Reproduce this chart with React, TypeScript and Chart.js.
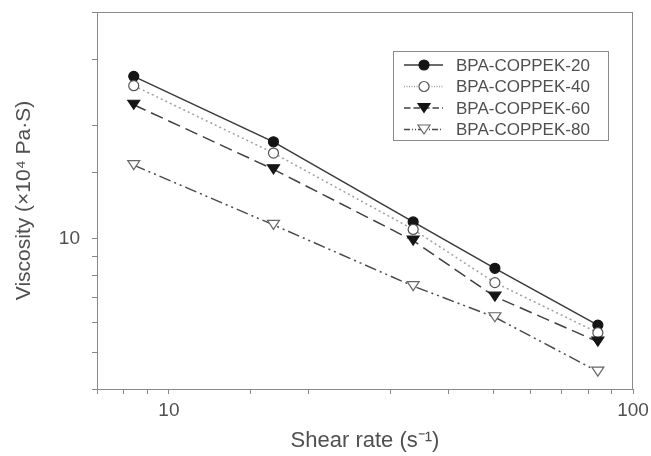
import React, { useEffect, useRef } from 'react';
import { Chart, registerables } from 'chart.js';

Chart.register(...registerables);

const shearRates = [8.4, 16.8, 33.6, 50.4, 84];
const visc20 = [27.0, 18.1, 11.1, 8.36, 5.91];
const visc40 = [25.5, 16.9, 10.6, 7.66, 5.64];
const visc60 = [22.7, 15.3, 9.9, 7.03, 5.34];
const visc80 = [15.7, 10.9, 7.5, 6.2, 4.45];
const seriesLabels = ['BPA-COPPEK-20', 'BPA-COPPEK-40', 'BPA-COPPEK-60', 'BPA-COPPEK-80'];
const xTickLabels = [10, 100];
const yTickLabels = [10];

const FONT = "'Liberation Sans', Arial, sans-serif";
const TEXT = '#505050';
const AXIS = '#8a8a8a';

type Sty = {
  line: string; dash: number[]; width: number;
  shape: 'circle' | 'tri'; fill: string; stroke: string; r: number;
};
const styles: Sty[] = [
  { line: '#3a3a3a', dash: [], width: 1.5, shape: 'circle', fill: '#151515', stroke: '#151515', r: 5 },
  { line: '#a0a0a0', dash: [2, 3], width: 1.5, shape: 'circle', fill: '#ffffff', stroke: '#555555', r: 5 },
  { line: '#404040', dash: [13, 6], width: 1.5, shape: 'tri', fill: '#151515', stroke: '#151515', r: 6 },
  { line: '#4a4a4a', dash: [12, 4, 2, 4, 2, 4], width: 1.5, shape: 'tri', fill: '#ffffff', stroke: '#666666', r: 6 },
];

function drawMarker(ctx: CanvasRenderingContext2D, s: Sty, x: number, y: number) {
  ctx.save();
  ctx.setLineDash([]);
  ctx.lineWidth = 1.2;
  ctx.fillStyle = s.fill;
  ctx.strokeStyle = s.stroke;
  ctx.beginPath();
  if (s.shape === 'circle') {
    ctx.arc(x, y, s.r, 0, Math.PI * 2);
  } else {
    const h = s.r * 1.5;
    ctx.moveTo(x - s.r, y - h / 2);
    ctx.lineTo(x + s.r, y - h / 2);
    ctx.lineTo(x, y + h / 2);
    ctx.closePath();
  }
  ctx.fill();
  ctx.stroke();
  ctx.restore();
}

const framePlugin = {
  id: 'frameAndLegend',
  afterDatasetsDraw(chart: any) {
    const ctx: CanvasRenderingContext2D = chart.ctx;
    const a = chart.chartArea;
    ctx.save();
    ctx.strokeStyle = AXIS;
    ctx.lineWidth = 1;
    ctx.strokeRect(a.left + 0.5, a.top + 0.5, a.right - a.left - 1, a.bottom - a.top);
    chart.data.datasets.forEach((ds: any, i: number) => {
      const meta = chart.getDatasetMeta(i);
      meta.data.forEach((pt: any) => drawMarker(ctx, styles[i], pt.x, pt.y));
    });
    const bx = 393, by = 51, bw = 215, bh = 89;
    ctx.fillStyle = '#ffffff';
    ctx.fillRect(bx, by, bw, bh);
    ctx.strokeStyle = '#8a8a8a';
    ctx.lineWidth = 1;
    ctx.strokeRect(bx + 0.5, by + 0.5, bw, bh);
    ctx.font = `17px ${FONT}`;
    ctx.textBaseline = 'middle';
    ctx.textAlign = 'left';
    seriesLabels.forEach((lab, i) => {
      const s = styles[i];
      const y = by + 14 + i * 21.5;
      ctx.save();
      ctx.strokeStyle = s.line;
      ctx.lineWidth = s.width;
      ctx.setLineDash(s.dash.length ? s.dash.map((d) => Math.max(1, d * 0.5)) : []);
      ctx.beginPath();
      ctx.moveTo(404, y);
      ctx.lineTo(443, y);
      ctx.stroke();
      ctx.restore();
      drawMarker(ctx, s, 424, y);
      ctx.fillStyle = TEXT;
      ctx.fillText(lab, 456, y + 1);
    });
    ctx.restore();
  },
};

export default function App() {
  const ref = useRef<HTMLCanvasElement>(null);
  useEffect(() => {
    document.body.style.margin = '0';
    const canvas = ref.current!;
    const datasets = [visc20, visc40, visc60, visc80].map((vals, i) => ({
      label: seriesLabels[i],
      data: vals.map((v, j) => ({ x: shearRates[j], y: v })),
      showLine: true,
      borderColor: styles[i].line,
      borderWidth: styles[i].width,
      borderDash: styles[i].dash,
      pointRadius: 0,
      pointHoverRadius: 0,
      tension: 0,
      fill: false,
    }));
    const chart = new Chart(canvas, {
      type: 'scatter',
      data: { datasets },
      plugins: [framePlugin],
      options: {
        animation: false,
        responsive: false,
        layout: { padding: { top: 12, right: 18, left: 0, bottom: 0 } },
        plugins: { legend: { display: false }, tooltip: { enabled: false } },
        scales: {
          x: {
            type: 'logarithmic',
            min: 7,
            max: 100,
            position: 'bottom',
            grid: { drawOnChartArea: false, tickLength: 5, color: AXIS },
            border: { color: AXIS },
            ticks: {
              autoSkip: false,
              maxRotation: 0,
              color: TEXT,
              font: { family: FONT, size: 19 },
              padding: 5,
              callback: (v: any) => (xTickLabels.includes(Number(v)) ? String(v) : ''),
            },
            title: {
              display: true,
              text: 'Shear rate (s\u207B\u00B9)',
              color: TEXT,
              font: { family: FONT, size: 22 },
              padding: { top: 0, bottom: 2 },
            },
            afterFit: (s: any) => { s.height = 67; s.paddingLeft = 0; s.paddingRight = 0; },
          },
          y: {
            type: 'logarithmic',
            min: 4,
            max: 40,
            grid: { drawOnChartArea: false, tickLength: 5, color: AXIS },
            border: { color: AXIS },
            ticks: {
              autoSkip: false,
              color: TEXT,
              font: { family: FONT, size: 19 },
              padding: 12,
              callback: (v: any) => (yTickLabels.includes(Number(v)) ? String(v) : ''),
            },
            title: {
              display: true,
              text: 'Viscosity (\u00D710\u2074 Pa\u00B7S)',
              color: TEXT,
              font: { family: FONT, size: 21 },
              padding: { top: 12, bottom: 0 },
            },
            afterFit: (s: any) => { s.width = 97; s.paddingTop = 0; s.paddingBottom = 0; },
          },
        },
      } as any,
    });
    return () => chart.destroy();
  }, []);
  return (
    <div style={{ width: 651, height: 456 }}>
      <canvas ref={ref} width={651} height={456} />
    </div>
  );
}
